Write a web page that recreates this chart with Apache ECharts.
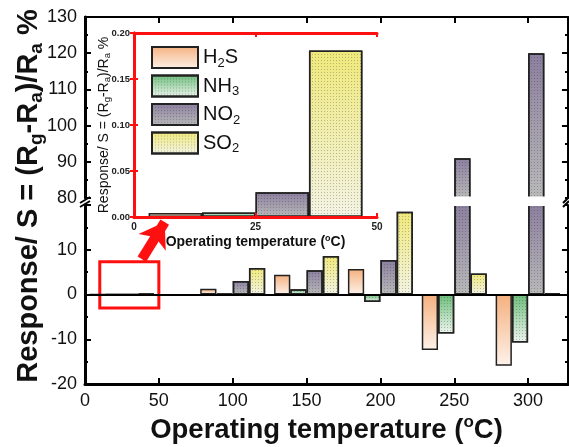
<!DOCTYPE html>
<html><head><meta charset="utf-8">
<script src="https://cdn.jsdelivr.net/npm/echarts@6/dist/echarts.min.js"></script>
<style>html,body{margin:0;padding:0;background:#fff}#c{width:569px;height:447px}</style>
</head><body><div id="c"></div>
<script>
// ---- data ----
const temps = [25, 100, 150, 200, 250, 300];
const h2s = [0.0043, 1.3, 4.4, 5.7, -12.4, -15.9];
const nh3 = [0.005, 0.2, 1.2, -1.7, -8.7, -10.7];
const no2 = [0.027, 3.0, 5.4, 7.7, 91, 120];
const so2 = [0.181, 5.9, 8.6, 18.5, 4.7, 0.3];
const gasNames = ['H2S', 'NH3', 'NO2', 'SO2'];
const insetTemp = 25;            // temperature shown magnified in the inset
const xTicks = [0, 50, 100, 150, 200, 250, 300];
const upperTicks = [80, 90, 100, 110, 120, 130];
const lowerTicks = [-20, -10, 0, 10];
const insetXTicks = [0, 25, 50];
const insetYTicks = [0, 0.05, 0.10, 0.15, 0.20];

const FONT = '"Liberation Sans", Arial, Helvetica, sans-serif';
const chart = echarts.init(document.getElementById('c'), null, {renderer: 'canvas'});

function grad(top, bottom) {
  return {type: 'linear', x: 0, y: 0, x2: 0, y2: 1,
    colorStops: [{offset: 0, color: top}, {offset: 1, color: bottom}]};
}
const dots = {symbol: 'rect', symbolSize: 1, dashArrayX: [1, 2], dashArrayY: [1, 2], color: 'rgba(40,40,40,0.28)'};
const styles = {
  H2S: {color: grad('#f5b07e', '#fdf2ea'), borderColor: '#222', borderWidth: 1.5},
  NH3: {color: grad('#6cbd7a', '#eef5ee'), borderColor: '#222', borderWidth: 1.5, decal: dots},
  NO2: {color: grad('#8b7f9f', '#b9b9b9'), borderColor: '#222', borderWidth: 1.5, decal: dots},
  SO2: {color: grad('#efe97a', '#f3f3e4'), borderColor: '#222', borderWidth: 1.5, decal: dots}
};
const values = {H2S: h2s, NH3: nh3, NO2: no2, SO2: so2};

const series = [];
// main chart: upper (broken) part and lower part
[[0, 0], [1, 2]].forEach(([xi, yi]) => {
  gasNames.forEach((g) => {
    series.push({
      name: g, type: 'bar', xAxisIndex: xi, yAxisIndex: yi,
      barWidth: '22%', barGap: '0%', clip: true, z: 2,
      itemStyle: styles[g],
      data: temps.map((t, i) => [t, values[g][i]])
    });
  });
});
// zero line, highlight box and arrow on lower part
series[4].markLine = {silent: true, symbol: 'none', animation: false,
  lineStyle: {color: '#000', width: 2, type: 'solid'}, label: {show: false},
  data: [{yAxis: 0}]};
series[5].markArea = {silent: true, animation: false,
  itemStyle: {color: 'rgba(0,0,0,0)', borderColor: '#ff1010', borderWidth: 3},
  data: [[{coord: [10, -3]}, {coord: [50, 7.3]}]]};
series[6].markLine = {silent: true, symbol: ['none', 'arrow'], symbolSize: 24, animation: false,
  lineStyle: {color: '#ff1010', width: 10, type: 'solid', opacity: 1}, label: {show: false},
  data: [[{coord: [33, 7.9]}, {coord: [48.5, 16.2]}]]};
// inset
gasNames.forEach((g) => {
  const i = temps.indexOf(insetTemp);
  series.push({
    name: g, type: 'bar', xAxisIndex: 2, yAxisIndex: 4,
    barWidth: '22%', barGap: '0%', clip: true, z: 12,
    itemStyle: styles[g],
    data: [[insetTemp, values[g][i]]]
  });
});

const tickIn = (len, w, c) => ({show: true, inside: true, length: len, lineStyle: {color: c || '#000', width: w}});
const minorIn = (len, w, c) => ({show: true, splitNumber: 2, length: len, lineStyle: {color: c || '#000', width: w}});
const none = {show: false};
const baseY = {type: 'value', splitLine: none, minorSplitLine: none};

const legendFmt = {H2S: '{n|H}{s|2}{n|S}', NH3: '{n|NH}{s|3}', NO2: '{n|NO}{s|2}', SO2: '{n|SO}{s|2}'};

const option = {
  animation: false,
  backgroundColor: '#fff',
  textStyle: {fontFamily: FONT},
  grid: [
    {left: 85, right: 1, top: 17, height: 181, outerBoundsMode: 'none'},
    {left: 85, right: 1, top: 205, height: 179, outerBoundsMode: 'none'},
    {left: 134, top: 33, width: 243, height: 184, outerBoundsMode: 'none', show: true,
      backgroundColor: '#fff', borderWidth: 0, z: 10}
  ],
  xAxis: [
    {type: 'value', gridIndex: 0, position: 'top', min: 0, max: 327, interval: 50,
      axisLine: {show: true, lineStyle: {color: '#000', width: 2}},
      axisTick: tickIn(6, 2), axisLabel: none, splitLine: none},
    {type: 'value', gridIndex: 1, position: 'bottom', min: 0, max: 327, interval: 50,
      axisLine: {show: true, onZero: false, lineStyle: {color: '#000', width: 3}},
      axisTick: tickIn(6, 2),
      axisLabel: {show: true, fontSize: 18, color: '#111', margin: 8, fontFamily: FONT,
        showMaxLabel: false, formatter: v => (xTicks.includes(v) ? String(v) : '')},
      splitLine: none,
      name: '{t|Operating temperature (}{p|o}{t|C)}', nameLocation: 'middle', nameGap: 30,
      nameTextStyle: {rich: {
        t: {fontSize: 27.5, fontWeight: 'bold', fontFamily: FONT, color: '#111', lineHeight: 32},
        p: {fontSize: 17, fontWeight: 'bold', fontFamily: FONT, color: '#111', lineHeight: 20, verticalAlign: 'top'}}}},
    {type: 'value', gridIndex: 2, position: 'bottom', min: 0, max: 50, interval: 25, z: 13,
      axisLine: {show: true, onZero: false, lineStyle: {color: '#ff1010', width: 3}},
      axisTick: tickIn(4, 2, '#ff1010'),
      axisLabel: {show: true, fontSize: 10, fontWeight: 'bold', color: '#222', margin: 5, fontFamily: FONT,
        formatter: v => (insetXTicks.includes(v) ? String(v) : '')},
      splitLine: none,
      name: '{t|Operating temperature (}{p|o}{t|C)}', nameLocation: 'middle', nameGap: 17,
      nameTextStyle: {rich: {
        t: {fontSize: 14, fontWeight: 'bold', fontFamily: FONT, color: '#111', lineHeight: 17},
        p: {fontSize: 9, fontWeight: 'bold', fontFamily: FONT, color: '#111', lineHeight: 10, verticalAlign: 'top'}}}},
    {type: 'value', gridIndex: 2, position: 'top', min: 0, max: 50, interval: 25, z: 13,
      axisLine: {show: true, onZero: false, lineStyle: {color: '#ff1010', width: 3}},
      axisTick: tickIn(4, 2, '#ff1010'), axisLabel: none, splitLine: none}
  ],
  yAxis: [
    Object.assign({}, baseY, {gridIndex: 0, position: 'left', min: 80, max: 130, interval: 10,
      axisLine: {show: true, lineStyle: {color: '#000', width: 3}},
      axisTick: tickIn(6, 2), minorTick: minorIn(3, 2),
      axisLabel: {show: true, fontSize: 18, color: '#111', margin: 8, fontFamily: FONT,
        formatter: v => (upperTicks.includes(v) ? String(v) : '')}}),
    Object.assign({}, baseY, {gridIndex: 0, position: 'right', min: 80, max: 130, interval: 10,
      axisLine: {show: true, lineStyle: {color: '#000', width: 2}},
      axisTick: tickIn(6, 2), minorTick: minorIn(3, 2), axisLabel: none}),
    Object.assign({}, baseY, {gridIndex: 1, position: 'left', min: -20, max: 20, interval: 10,
      axisLine: {show: true, lineStyle: {color: '#000', width: 3}},
      axisTick: tickIn(6, 2), minorTick: minorIn(3, 2),
      axisLabel: {show: true, fontSize: 18, color: '#111', margin: 8, fontFamily: FONT, showMaxLabel: false,
        formatter: v => (lowerTicks.includes(v) ? String(v) : '')}}),
    Object.assign({}, baseY, {gridIndex: 1, position: 'right', min: -20, max: 20, interval: 10,
      axisLine: {show: true, lineStyle: {color: '#000', width: 2}},
      axisTick: tickIn(6, 2), minorTick: minorIn(3, 2), axisLabel: none}),
    Object.assign({}, baseY, {gridIndex: 2, position: 'left', min: 0, max: 0.2, interval: 0.05, z: 13,
      axisLine: {show: true, lineStyle: {color: '#ff1010', width: 3}},
      axisTick: tickIn(4, 2, '#ff1010'),
      axisLabel: {show: true, fontSize: 9.5, fontWeight: 'bold', color: '#222', margin: 4, fontFamily: FONT,
        formatter: v => (insetYTicks.some(t => Math.abs(t - v) < 1e-9) ? v.toFixed(2) : '')},
      name: '{t|Response/ S = (R}{s|g}{t|-R}{s|a}{t|)/R}{s|a}{t| %}', nameLocation: 'middle', nameGap: 22, nameRotate: 90,
      nameMoveOverlap: false,
      nameTextStyle: {rich: {
        t: {fontSize: 14, fontFamily: FONT, color: '#111', lineHeight: 16},
        s: {fontSize: 9.5, fontFamily: FONT, color: '#111', lineHeight: 6, verticalAlign: 'bottom'}}}}),
    Object.assign({}, baseY, {gridIndex: 2, position: 'right', min: 0, max: 0.2, interval: 0.05, z: 13,
      axisLine: {show: true, lineStyle: {color: '#ff1010', width: 3}},
      axisTick: tickIn(4, 2, '#ff1010'), axisLabel: none})
  ],
  legend: {
    data: gasNames, orient: 'vertical', left: 146, top: 41, z: 20, icon: 'rect',
    itemWidth: 46, itemHeight: 21, itemGap: 5,
    formatter: n => legendFmt[n],
    textStyle: {rich: {
      n: {fontSize: 20, fontFamily: FONT, color: '#111', lineHeight: 24},
      s: {fontSize: 13, fontFamily: FONT, color: '#111', lineHeight: 9, verticalAlign: 'bottom'}}}
  },
  graphic: [
    {type: 'text', x: 29, y: 196, rotation: Math.PI / 2, z: 30,
      style: {text: '{t|Response/ S = (R}{s|g}{t|-R}{s|a}{t|)/R}{s|a}{t| %}', align: 'center', verticalAlign: 'middle',
        rich: {
          t: {fontSize: 29, fontWeight: 'bold', fontFamily: FONT, fill: '#111', lineHeight: 34},
          s: {fontSize: 19, fontWeight: 'bold', fontFamily: FONT, fill: '#111', lineHeight: 12, verticalAlign: 'bottom'}}}},
    // white gap of the broken axis (hides clipped bar edges of the tall bars)
    {type: 'rect', z: 25, shape: {x: 380, y: 196.5, width: 185, height: 9.5}, style: {fill: '#fff'}},
    // axis break marks
    {type: 'line', z: 30, shape: {x1: 80, y1: 203, x2: 90, y2: 197}, style: {stroke: '#000', lineWidth: 2}},
    {type: 'line', z: 30, shape: {x1: 80, y1: 207, x2: 90, y2: 201}, style: {stroke: '#000', lineWidth: 2}},
    {type: 'line', z: 30, shape: {x1: 563, y1: 203, x2: 569, y2: 197}, style: {stroke: '#000', lineWidth: 2}},
    {type: 'line', z: 30, shape: {x1: 563, y1: 207, x2: 569, y2: 201}, style: {stroke: '#000', lineWidth: 2}}
  ],
  series: series
};
chart.setOption(option);
</script>
</body></html>
